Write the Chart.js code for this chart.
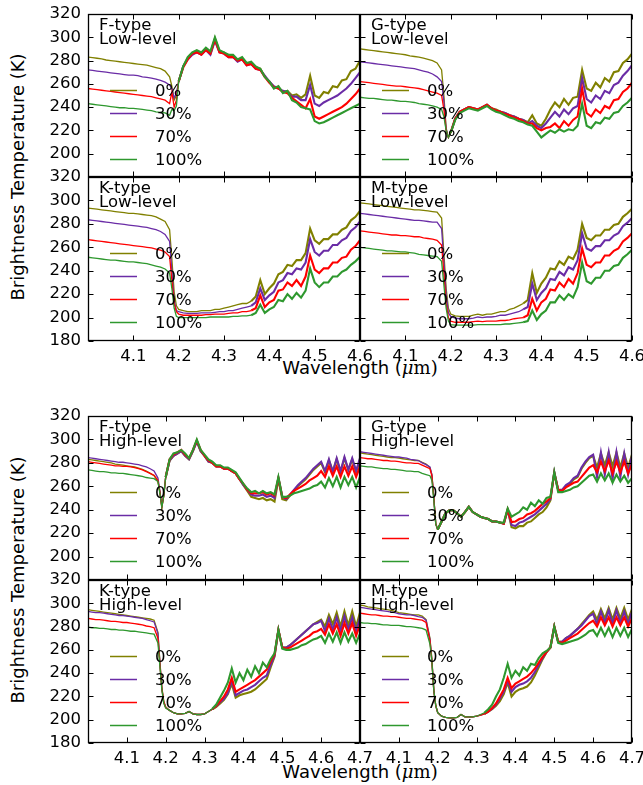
<!DOCTYPE html>
<html><head><meta charset="utf-8">
<script src="https://cdn.jsdelivr.net/npm/chart.js@4.4.0/dist/chart.umd.min.js"></script>
<style>
html,body{margin:0;padding:0;background:#fff;}
body{width:643px;height:785px;position:relative;overflow:hidden;font-family:"DejaVu Sans",sans-serif;color:#000;}
canvas{position:absolute;}
.ylab{position:absolute;width:320px;height:22px;line-height:22px;text-align:center;white-space:nowrap;font-size:18px;transform:rotate(-90deg);}
.xlab{position:absolute;width:300px;height:22px;line-height:22px;text-align:center;white-space:nowrap;font-size:18px;}
.m{font-family:"DejaVu Serif",serif;}
</style></head><body>
<div class="ylab" style="left:-142px;top:166px;">Brightness Temperature (K)</div>
<div class="ylab" style="left:-142px;top:569px;">Brightness Temperature (K)</div>
<div class="xlab" style="left:210px;top:357px;">Wavelength (<span class="m"><i>μ</i>m)</span></div>
<div class="xlab" style="left:210px;top:761px;">Wavelength (<span class="m"><i>μ</i>m)</span></div>
<script>
// ---------------- data ----------------
const SERIES_LABELS = ['0%', '30%', '70%', '100%'];
const Y_TICKS = [180, 200, 220, 240, 260, 280, 300, 320];
const X_TICKS_TOP = [4.0, 4.1, 4.2, 4.3, 4.4, 4.5, 4.6];
const X_TICKS_BOT = [4.0, 4.1, 4.2, 4.3, 4.4, 4.5, 4.6, 4.7];

const WL_TOP = [4.00,4.01,4.02,4.03,4.04,4.05,4.06,4.07,4.08,4.09,4.10,4.11,4.12,4.13,4.14,4.15,4.16,4.17,
  4.18,4.185,4.19,4.195,4.20,
  4.21,4.22,4.23,4.24,4.25,4.26,4.27,4.28,4.29,4.30,
  4.31,4.32,4.33,4.34,4.35,4.36,4.37,4.38,4.39,4.40,
  4.41,4.42,4.43,4.44,4.45,4.46,4.47,4.48,4.49,4.50,
  4.51,4.52,4.53,4.54,4.55,4.56,4.57,4.58,4.59,4.60];
const WL_BOT = [4.00,4.01,4.02,4.03,4.04,4.05,4.06,4.07,4.08,4.09,4.10,4.11,4.12,4.13,4.14,4.15,4.16,4.17,
  4.18,4.185,4.19,4.195,4.20,
  4.21,4.22,4.23,4.24,4.25,4.26,4.27,4.28,4.29,4.30,
  4.31,4.32,4.33,4.34,4.35,4.36,4.37,4.38,4.39,4.40,
  4.41,4.42,4.43,4.44,4.45,4.46,4.47,4.48,4.49,4.50,
  4.51,4.52,4.53,4.54,4.55,4.56,4.57,4.58,4.59,4.60,
  4.61,4.62,4.63,4.64,4.65,4.66,4.67,4.68,4.69,4.70];

// F-type Low-level
const F_LOW_0 = [283,282.5,282,281.5,280.5,280,279.5,279,278.5,278,277.5,277,276.5,276,275,274,273,271,
  266,258,246,250,262,
  275,282,286,288,286,290,286,299,288,287,
  284,284,280,282,277,278,274,273,266,262,
  257,257,253,254,250,251,248,251,267,250,
  248,253,252,258,257,263,264,271,273,280];
const F_LOW_30 = [272,271.5,271,270.5,270,269.5,269,268.5,268,267.5,267.5,267,266,265.5,265,264,263,261.5,
  259,256,248,252,262,
  275,281,285,287,285,289,285,297,287,286,
  283,283,279,281,276,277,273,272,267,262,
  258,256,254,253,249,249,246,246,259,243,
  241,244,246,248,250,253,256,260,265,270];
const F_LOW_70 = [256,255.5,255,254.5,254,253.5,253,252.5,252,251.5,251,250.5,250,249.5,249,248,247,246,
  243,253,240,246,262,
  274,281,286,287,285,289,286,298,287,286,
  283,283,280,281,276,277,273,272,266,261,
  257,256,253,252,248,245,242,239,247,232,
  230,232,234,236,238,240,243,247,251,256];
const F_LOW_100 = [243,242.5,242,241.5,241,240.5,240,239.5,239.5,239,239,238.5,238,237.5,237,236,235.5,235,
  233,238,237,241,262,
  275,283,287,289,287,291,288,300,289,287,
  285,285,281,283,278,279,275,273,266,262,
  256,258,252,254,246,244,240,239,238,228,
  226,227,229,231,233,235,237,239,241,243];

// G-type Low-level
const G_LOW_0 = [290,289.5,289,288.5,288,287.5,287,286.5,286,285.5,285,284,283.5,283,282,281,280,278,
  272,250,222,214,218,
  230,236,238,240,239,238,240,242,239,238,
  236,235,233,232,230,229,227,233,226,224,
  230,238,244,240,247,242,248,249,272,256,
  254,261,257,265,262,270,271,278,281,286];
const G_LOW_30 = [279,278.5,278,277.5,277,276.5,276,275.5,275,274.5,274,273.5,273,272,271,270,268.5,266,
  262,245,221,214,218,
  230,236,238,240,239,238,240,242,239,237,
  236,235,233,232,230,229,226,228,224,222,
  226,231,236,232,238,234,239,241,265,247,
  244,250,247,254,252,259,261,267,271,276];
const G_LOW_70 = [262,261.5,261,260.5,260,259.5,259,258.5,258,258,257.5,257,256.5,256,255,254,253,252,
  250,238,220,214,218,
  230,236,238,240,239,238,240,242,239,237,
  236,234,233,231,230,228,226,226,222,220,
  222,223,226,222,228,224,229,232,256,235,
  232,238,235,241,239,246,247,253,256,261];
const G_LOW_100 = [248.5,248,247.5,247.5,247,246.5,246,246,245.5,245,245,244.5,244,243,242.5,242,241,240,
  238,232,220,214,218,
  229,235,237,239,238,237,239,241,238,236,
  235,233,231,230,228,227,225,224,219,214,
  217,220,218,221,219,221,220,224,243,224,
  222,227,226,231,230,235,236,241,244,248];

// K-type Low-level
const K_LOW_0 = [293.5,293,292.5,292,291.5,291,290.5,290,289.5,289,289,288.5,288,287.5,287,286,284,282,
  275,250,222,210,207,
  206,205,205,205,206,206,206,207,207,208,
  209,210,211,212,212,214,218,232,220,225,
  229,237,239,245,244,249,249,255,276,266,
  263,267,267,271,271,275,277,283,286,291];
const K_LOW_30 = [283.5,283,282.5,282,281.5,281,280.5,280,279.5,279,278.5,278,277.5,277,276,275,273.5,271,
  265,240,215,206,205,
  204,203.5,203.5,203.5,204,204,204,204.5,205,205,
  206,206,207,208,209,210,213,225,215,219,
  222,230,232,238,237,242,241,247,267,256,
  253,257,257,262,262,266,268,274,277,282];
const K_LOW_70 = [266.5,266,265.5,265,264.5,264,263.5,263,262.5,262,261.5,261,260.5,260,259.5,258.5,257.5,256,
  252,232,212,205,203,
  202,202,202,202,202,202.5,202.5,203,203,203,
  203.5,204,204,205,205,206,208,219,209,213,
  215,223,224,230,227,232,227,235,253,241,
  238,242,242,247,247,251,252,258,261,266];
const K_LOW_100 = [251.5,251,250.5,250,249.5,249,249,248.5,248,247.5,247.5,247,246.5,246,245,244,243,241.5,
  238,225,208,201,200,
  200,200,200,200,200,200,200.5,200.5,200.5,200.5,
  200.5,201,201,201.5,201.5,202,204,211,204,207,
  209,215,214,220,216,221,217,223,242,230,
  226,230,230,235,235,239,241,245,248,252];

// M-type Low-level
const M_LOW_0 = [298,297.5,297,296.5,296,295.5,295,294.5,294,293.5,293,292.5,292,292,291.5,291,290.5,290,
  285,255,225,208,203,
  201.5,201,201,201,202,203,202,203,203,204,
  205,205,207,208,210,212,215,238,221,229,
  234,242,241,248,245,252,250,258,280,268,
  266,270,270,275,275,279,280,286,289,293];
const M_LOW_30 = [289,288.5,288,287.5,287,286.5,286,285.5,285,284.5,284,283.5,283,283,282.5,282,281.5,281.5,
  276,248,220,204,201,
  199.5,199,199,199,199.5,200.5,200,200.5,200.5,201,
  202,202,203,204,205,207,209,229,215,221,
  225,233,232,239,236,243,241,249,272,259,
  257,261,261,266,266,270,272,278,281,285];
const M_LOW_70 = [274,273.5,273,272.5,272,271.5,271,270.5,270.5,270,270,269.5,269,269,268,267.5,267,266,
  262,238,212,200,197,
  196,196,196,196,196.5,197,196.5,197,197,197,
  197.5,197.5,198,199,199.5,200,202,216,206,213,
  216,224,223,230,226,233,229,238,259,245,
  243,247,247,253,253,257,259,265,268,272];
const M_LOW_100 = [260,259.5,259,258.5,258,257.5,257,257,256.5,256,256,255.5,255,254,253.5,253,252.5,252,
  248,228,208,197,194,
  193.5,193.5,193.5,193.5,193.5,194,194,194,194,194,
  194,194.5,194.5,195,195.5,196,197,206,198,203,
  206,213,213,219,215,220,217,226,247,231,
  229,234,234,240,240,244,245,251,254,258];

// F-type High-level
const F_HIGH_0 = [283,282.5,282,281.5,281,280.5,280,279,278.5,278,277.5,277,276.5,275.5,274.5,273,271,269,
  264,255,242,252,268,
  282,286,288,290,286,283,290,299,290,286,
  281,280,277,277,275,275,273,271,266,261,
  256,251,250,249,250,248,249,247,266,249,
  248,252,256,260,263,266,270,274,277,280,
  272,282,273,283,272,284,274,283,272,283];
const F_HIGH_30 = [284.5,284,283.5,283,282.5,282,281.5,281,280.5,280.5,280,279.5,279,278.5,277.5,276.5,275,273,
  267,256,243,252,268,
  282,286,288,290,286,283,290,298,290,286,
  281,280,277,277,275,275,273,271,266,261,
  257,253,252,252,253,251,252,250,267,251,
  249,253,257,261,264,267,271,275,278,281,
  273,283,272,284,273,285,274,284,273,284];
const F_HIGH_70 = [281,280.5,280,279.5,279,278.5,278,277.5,277.5,277,277,276.5,276,275,274,272.5,271,269.5,
  265,255,242,252,268,
  283,287,289,291,287,284,291,299,291,286,
  282,280,277,277,275,275,273,271,266,262,
  257,254,254,254,255,253,254,252,267,251,
  250,253,256,258,260,262,265,267,269,273,
  268,277,269,277,268,277,269,277,268,277];
const F_HIGH_100 = [274,273.5,273,272.5,272.5,272,271.5,271.5,271,271,270.5,270,269.5,269,268.5,267.5,267,266.5,
  264,254,242,252,268,
  283,288,289,291,288,284,291,300,291,287,
  283,281,278,278,276,276,274,272,267,262,
  258,255,256,254,256,254,255,253,268,251,
  251,252,254,255,256,257,258,260,261,264,
  259,267,260,268,259,268,261,268,259,268];

// G-type High-level
const G_HIGH_0 = [288.5,288,287.5,287,286.5,286,285.5,285,284.5,284.5,284,283.5,283,282.5,282,282,280.5,279,
  276,270,250,228,223,
  230,237,239.5,239.5,237,234,238,242.5,238,236,
  234,233,232,230,230,229,228,240,225,224,
  226,226,229,230,233,236,238,242,248,272,
  257,256,260,262,266,268,275,280,284,286,
  276,288,278,289,277,289,276,288,276,287];
const G_HIGH_30 = [289.5,289,288.5,288,287.5,287,286.5,286,285.5,285,285,284.5,284,283,282.5,282,280,278.5,
  276.5,270,250,228,223,
  230,237,239.5,239.5,237,234,238,242.5,238,236,
  234,233,232,230,230,229,228,240,227,226,
  229,230,232,234,236,239,242,245,249,272,
  257,257,261,263,267,269,276,281,285,287,
  268,289,270,289,266,289,268,288,270,286];
const G_HIGH_70 = [284.5,284,283.5,283.5,283,282.5,282,282,281.5,281.5,281,280.5,280,280,279.5,279.5,278,276.5,
  275,269,250,228,223,
  230,237,239.5,239.5,237,234,238,242.5,238,236,
  234,233,232,230,230,229,228,240,229.5,230,
  232,233,236,237,239,242,245,247,250,271,
  257,256,259,261,263,264,268,272,276,278,
  272,281,273,282,271,281,272,281,271,279];
const G_HIGH_100 = [277.5,277,276.5,276.5,276,275.5,275,275,274.5,274.5,274,273.5,273,273,272.5,272.5,271,270,
  269,265,248,228,223,
  230,237,239.5,239.5,237,234,238,242.5,238,236,
  234,233,232,230,230,229,229,241,234,236,
  238,242,240,246,243,248,245,250,251,272,
  255,255,256,257,259,260,263,266,269,270,
  264,271,265,271,263,270,264,269,263,267];

// K-type High-level
const K_HIGH_0 = [294.5,294,293.5,293,292.5,292,291.5,291,290.5,290,289.5,289,288.5,288,287.5,287,286.5,285.5,
  275,250,228,216,211,
  208,206,205,205,205.5,207,205,204.5,204.5,205,
  207,209,211,214,217,222,231,219,221,222,
  223,224,226,229,232,235,245,254,277,262,
  262,264,267,270,273,276,279,282,284,286,
  280,290,282,292,280,293,281,293,280,292];
const K_HIGH_30 = [293,292.5,292,292,291.5,291,290.5,290,289.5,289.5,289,288.5,288,287.5,287,286,285,284,
  274,249,227,215,210.5,
  208,206,205,205,205.5,207,205,204.5,204.5,205,
  207,209,211.5,215,218,223,234,221,223,225,
  226,228,230,233,236,238,247,255,277,262,
  262,264,267,270,273,276,279,282,283,285,
  276,287,277,288,276,289,277,288,276,288];
const K_HIGH_70 = [287,286.5,286,286,285.5,285,284.5,284.5,284,283.5,283.5,283,282.5,282,281.5,280.5,280,279,
  270,248,227,215,210.5,
  208,206,205,205,205.5,207,205,204.5,204.5,205,
  207,209,212,216,220,226,236,224,226,228,
  230,232,234,237,240,243,250,256,277,262,
  261,262,264,266,268,270,272,275,276,278,
  273,282,274,282,272,283,274,283,272,282];
const K_HIGH_100 = [279.5,279,279,278.5,278.5,278,277.5,277.5,277,277,276.5,276,276,275.5,275,274.5,274,273.5,
  266,246,226,214,210,
  208,206,205,205,205.5,207,205,204.5,204.5,205,
  207,209.5,213,219,225,232,244,232,240,234,
  243,237,246,240,249,245,252,257,277,261,
  260,260,261,262,264,265,267,269,270,272,
  266,274,267,275,266,275,267,274,266,274];

// M-type High-level
const M_HIGH_0 = [298.5,298,297,296.5,296,295.5,295,294.5,294,293,292,291.5,291,290.5,290,290,289,286,
  270,252,225,212,206,
  203,202,201.5,201.5,202,204.5,202.5,202.5,202.5,203,
  204,205,207,209,212,216,222,232,220,224,
  226,227,228.5,232,238,245,252,258,262,280,
  267,267,270,272,275,278,282,286,290,293,
  286,295,287,296,286,296,287,296,286,295];
const M_HIGH_30 = [296.5,296,295.5,295,294.5,294,293.5,293,292.5,292,291,290.5,290,290,289.5,288.5,288,285.5,
  269,251,225,212,206,
  203,202,201.5,201.5,202,204.5,202.5,202.5,202.5,203,
  204,205,207,209.5,213,218,224,234,224,228,
  230,231,233,236,241,247,253,258,262,280,
  267,267,270,272,275,278,281,285,289,291,
  282,293,283,294,282,294,283,293,282,293];
const M_HIGH_70 = [291.5,291,290.5,290,290,289.5,289,289,288.5,288.5,288,287.5,287,287,286.5,286,285.5,283.5,
  268,250,225,212,206,
  203,202,201.5,201.5,202,204.5,202.5,202.5,202.5,203,
  204,205,207,210,214,220,226,236,227,231,
  233,235,237,240,244,249,254,258,262,280,
  267,266,268,270,272,274,277,280,283,285,
  280,288,281,288,280,288,281,288,280,287];
const M_HIGH_100 = [283.5,283,283,282.5,282.5,282,281.5,281.5,281,281,281,280.5,280,280,279.5,279,278.5,277,
  265,250,225,212,206,
  203,202,201.5,201.5,202,204.5,202.5,202.5,202.5,203,
  204.5,206,209,213,220,226,236,248,236,242,
  238,245,242,248,247,253,257,259,262,280,
  266,265,266,267,268,269,271,273,276,277,
  272,279,272,279,271,279,272,279,271,278];

const COLORS = ['#808000', '#6a2ca6', '#ff0000', '#2e982e'];

// ---------------- panels ----------------
// noisyFrom: wavelength from which the spectra are drawn as thicker (noisy) bands
const PANELS = [
  {title:['F-type','Low-level'],  frame:[88,14,272,163],  wl:WL_TOP, xt:X_TICKS_TOP, series:[F_LOW_0,F_LOW_30,F_LOW_70,F_LOW_100],     left:true,  bottom:false, noisyFrom:4.2},
  {title:['G-type','Low-level'],  frame:[360,14,272,163], wl:WL_TOP, xt:X_TICKS_TOP, series:[G_LOW_0,G_LOW_30,G_LOW_70,G_LOW_100],     left:false, bottom:false, noisyFrom:4.2},
  {title:['K-type','Low-level'],  frame:[88,177,272,164], wl:WL_TOP, xt:X_TICKS_TOP, series:[K_LOW_0,K_LOW_30,K_LOW_70,K_LOW_100],     left:true,  bottom:true,  noisyFrom:4.36},
  {title:['M-type','Low-level'],  frame:[360,177,272,164],wl:WL_TOP, xt:X_TICKS_TOP, series:[M_LOW_0,M_LOW_30,M_LOW_70,M_LOW_100],     left:false, bottom:true,  noisyFrom:4.36},
  {title:['F-type','High-level'], frame:[88,416,272,164], wl:WL_BOT, xt:X_TICKS_BOT, series:[F_HIGH_0,F_HIGH_30,F_HIGH_70,F_HIGH_100], left:true,  bottom:false, noisyFrom:4.2},
  {title:['G-type','High-level'], frame:[360,416,272,164],wl:WL_BOT, xt:X_TICKS_BOT, series:[G_HIGH_0,G_HIGH_30,G_HIGH_70,G_HIGH_100], left:false, bottom:false, noisyFrom:4.2},
  {title:['K-type','High-level'], frame:[88,580,272,163], wl:WL_BOT, xt:X_TICKS_BOT, series:[K_HIGH_0,K_HIGH_30,K_HIGH_70,K_HIGH_100], left:true,  bottom:true,  noisyFrom:4.32},
  {title:['M-type','High-level'], frame:[360,580,272,163],wl:WL_BOT, xt:X_TICKS_BOT, series:[M_HIGH_0,M_HIGH_30,M_HIGH_70,M_HIGH_100], left:false, bottom:true,  noisyFrom:4.32}
];

PANELS.forEach(p => p.series.forEach((s, k) => {
  if (s.length !== p.wl.length) throw new Error(p.title.join(' ') + ' series ' + k + ' has ' + s.length + ' values, expected ' + p.wl.length);
}));

const FONT = "'DejaVu Sans', sans-serif";
const TXT = 16.5;
Chart.defaults.font.family = FONT;
Chart.defaults.color = '#000';

const panelPlugin = {
  id: 'panel',
  afterDatasetsDraw(chart, args, opts) {
    const ctx = chart.ctx, a = chart.chartArea, x = chart.scales.x, y = chart.scales.y;
    ctx.save();
    ctx.strokeStyle = '#000';
    ctx.lineWidth = 1;
    const L = Math.round(a.left) + 0.5, T = Math.round(a.top) + 0.5;
    const R = Math.round(a.right) - 0.5, B = Math.round(a.bottom) - 0.5;
    ctx.beginPath();
    const TL = 5;
    x.ticks.forEach(t => {
      const px = Math.round(x.getPixelForValue(t.value)) + 0.5;
      ctx.moveTo(px, B); ctx.lineTo(px, B - TL);
      ctx.moveTo(px, T); ctx.lineTo(px, T + TL);
    });
    y.ticks.forEach(t => {
      const py = Math.round(y.getPixelForValue(t.value)) + 0.5;
      ctx.moveTo(L, py); ctx.lineTo(L + TL, py);
      ctx.moveTo(R, py); ctx.lineTo(R - TL, py);
    });
    ctx.stroke();
    ctx.lineWidth = 1.3;
    ctx.strokeRect(L, T, R - L, B - T);
    // title
    ctx.fillStyle = '#000';
    ctx.font = TXT + 'px ' + FONT;
    ctx.textAlign = 'left';
    ctx.textBaseline = 'alphabetic';
    (opts.title || []).forEach((s, i) => ctx.fillText(s, a.left + 11, a.top + 15.5 + i * 14.7));
    // legend
    chart.data.datasets.forEach((d, i) => {
      const yy = a.top + 76.5 + i * 23;
      ctx.strokeStyle = d.borderColor;
      ctx.lineWidth = 1.5;
      ctx.beginPath();
      ctx.moveTo(a.left + 22, yy); ctx.lineTo(a.left + 49, yy);
      ctx.stroke();
      ctx.textBaseline = 'middle';
      ctx.fillText(d.label, a.left + 67, yy + 1);
    });
    ctx.restore();
  }
};

PANELS.forEach(p => {
  const [fx, fy, fw, fh] = p.frame;
  const padL = p.left ? 50 : 14, padR = 32, padT = 26, padB = p.bottom ? 32 : 26;
  const cv = document.createElement('canvas');
  cv.width = fw + padL + padR; cv.height = fh + padT + padB;
  cv.style.left = (fx - padL) + 'px'; cv.style.top = (fy - padT) + 'px';
  cv.style.width = cv.width + 'px'; cv.style.height = cv.height + 'px';
  document.body.appendChild(cv);
  const xt = p.xt;
  new Chart(cv, {
    type: 'line',
    data: {
      datasets: p.series.map((arr, k) => ({
        label: SERIES_LABELS[k],
        data: p.wl.map((w, i) => ({x: w, y: arr[i]})),
        borderColor: COLORS[k],
        backgroundColor: COLORS[k],
        borderWidth: 1.3,
        segment: {borderWidth: c => (c.p0.parsed.x >= p.noisyFrom - 1e-9 ? 2.1 : 1.3)},
        pointRadius: 0,
        tension: 0,
        fill: false,
        order: 4 - k
      }))
    },
    options: {
      responsive: false, animation: false, devicePixelRatio: 1, events: [],
      layout: {padding: {left: 0, right: padR, top: padT, bottom: 0}},
      plugins: {legend: {display: false}, tooltip: {enabled: false}, panel: {title: p.title}},
      scales: {
        x: {
          type: 'linear', min: xt[0], max: xt[xt.length - 1],
          afterBuildTicks: s => { s.ticks = xt.map(v => ({value: v})); },
          afterFit: s => { s.height = padB; },
          grid: {display: false, drawTicks: false}, border: {display: false},
          ticks: {display: p.bottom, autoSkip: false, maxRotation: 0, minRotation: 0, padding: 6,
                  font: {size: TXT}, color: '#000',
                  callback: (v, i) => i === 0 ? '' : Number(v).toFixed(1)}
        },
        y: {
          type: 'linear', min: Y_TICKS[0], max: Y_TICKS[Y_TICKS.length - 1],
          afterBuildTicks: s => { s.ticks = Y_TICKS.map(v => ({value: v})); },
          afterFit: s => { s.width = padL; },
          grid: {display: false, drawTicks: false}, border: {display: false},
          ticks: {display: p.left, padding: 7, font: {size: TXT}, color: '#000',
                  callback: (v, i) => (i === 0 && !p.bottom) ? '' : String(v)}
        }
      }
    },
    plugins: [panelPlugin]
  });
});
</script>
</body></html>
